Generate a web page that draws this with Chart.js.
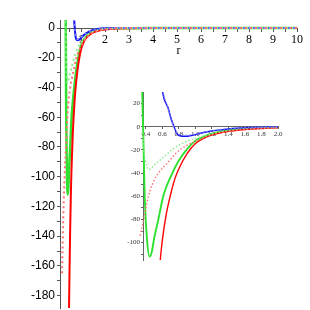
<!DOCTYPE html>
<html>
<head>
<meta charset="utf-8">
<script src="https://cdn.jsdelivr.net/npm/chart.js@4.4.0/dist/chart.umd.min.js"></script>
<style>
  body { margin: 0; background: #fff; }
  #wrap { position: relative; width: 310px; height: 310px; }
  #main { position: absolute; left: 0; top: 0; }
  #inset { position: absolute; left: 100px; top: 80px; }
</style>
</head>
<body>
<div id="wrap">
  <canvas id="main" width="310" height="310"></canvas>
  <canvas id="inset" width="200" height="190"></canvas>
</div>
<script>
// curves (r, value)
const redR   = [0.49, 0.5, 0.52, 0.55, 0.58, 0.6, 0.65, 0.7, 0.75, 0.8, 0.9, 1.0, 1.1, 1.2, 1.4, 1.6, 1.8, 2.0, 2.5, 3, 4, 6, 10];
const redV   = [-200, -190, -165, -134, -110, -97, -74, -58, -45, -36, -23, -14.5, -10, -7, -4, -2.4, -1.5, -1, -0.4, -0.2, -0.05, 0, 0];

const redDotR = [0.21, 0.23, 0.26, 0.3, 0.33, 0.37, 0.41, 0.45, 0.5, 0.55, 0.61, 0.7, 0.76, 0.85, 1.0, 1.2, 1.4, 1.6, 1.8, 2.0, 2.5, 3, 4, 10];
const redDotV = [-165, -150, -128, -108, -94, -81, -66, -55, -46, -40, -35, -28, -23, -18, -12.5, -7, -4, -2.3, -1.3, -0.8, -0.3, -0.1, 0, 0];

const greenR = [0.35, 0.355, 0.365, 0.375, 0.385, 0.41, 0.444, 0.47, 0.5, 0.55, 0.613, 0.7, 0.8, 0.9, 1.0, 1.1, 1.2, 1.4, 1.6, 1.8, 2.0, 2.5, 3, 4, 10];
const greenV = [60, 30, 0, -30, -60, -95, -112, -108, -96, -80, -59, -43, -29, -19, -12, -8.5, -6, -3, -1.6, -0.9, -0.5, -0.2, -0.1, 0, 0];

const greenDotR = [0.35, 0.36, 0.37, 0.39, 0.41, 0.43, 0.46, 0.5, 0.55, 0.6, 0.67, 0.75, 0.85, 1.0, 1.2, 1.4, 1.6, 1.8, 2.0, 2.5, 3, 4, 10];
const greenDotV = [8, -5, -18, -28, -34, -37, -36, -33, -30, -27, -22.7, -18, -14, -10, -6, -3.2, -1.8, -1, -0.5, -0.2, 0, 0, 0];

const blueR = [0.6, 0.62, 0.65, 0.67, 0.7, 0.73, 0.75, 0.78, 0.82, 0.88, 0.95, 1.0, 1.1, 1.2, 1.3, 1.4, 1.5, 1.7, 2.0, 2.5, 3, 4, 10];
const blueV = [30, 24, 19, 16, 8, 2, -2, -6.5, -8, -8.2, -7.5, -6.8, -5, -3.7, -2.7, -1.9, -1.3, -0.6, -0.2, -0.05, 0, 0, 0];
const blueDotV = [33, 26, 20, 15, 7, 1, -2.5, -5.5, -7, -7.5, -7, -6.2, -4.6, -3.4, -2.5, -1.8, -1.2, -0.6, -0.2, -0.05, 0, 0, 0];

// tick positions
const mainXTicks = [0.5, 1, 1.5, 2, 2.5, 3, 3.5, 4, 4.5, 5, 5.5, 6, 6.5, 7, 7.5, 8, 8.5, 9, 9.5, 10];
const mainYTicks = [-180, -170, -160, -150, -140, -130, -120, -110, -100, -90, -80, -70, -60, -50, -40, -30, -20, -10, 0];
const insetXTicks = [0.4, 0.6, 0.8, 1.0, 1.2, 1.4, 1.6, 1.8, 2.0];
const insetYTicks = [-110, -100, -90, -80, -70, -60, -50, -40, -30, -20, -10, 0, 10, 20];

function pts(rs, vs, lo, hi) {
  return rs.map((r, i) => ({x: r, y: vs[i]})).filter(p => p.x >= lo && p.x <= hi);
}

function sets(lo, hi, w, dash) {
  const base = {pointRadius: 0, cubicInterpolationMode: 'monotone', fill: false};
  return [
    {...base, data: pts(redDotR, redDotV, lo, hi), borderColor: '#ff6f6f', borderWidth: w, borderDash: dash},
    {...base, data: pts(greenDotR, greenDotV, lo, hi), borderColor: '#8aea8a', borderWidth: w, borderDash: dash},
    {...base, data: pts(blueR, blueDotV, lo, hi), borderColor: '#8080ff', borderWidth: w, borderDash: dash},
    {...base, data: pts(blueR, blueV, lo, hi), borderColor: '#1010ee', borderWidth: w},
    {...base, data: pts(redR, redV, lo, hi), borderColor: '#ff0000', borderWidth: w},
    {...base, data: pts(greenR, greenV, lo, hi), borderColor: '#30e030', borderWidth: w + 0.5}
  ];
}

function noPad(s) { s.paddingLeft = 0; s.paddingRight = 0; s.paddingTop = 0; s.paddingBottom = 0; }

const mainSets = sets(0, 10, 2, [2, 3]);
mainSets.forEach(d => d.clip = 0);

new Chart(document.getElementById('main'), {
  type: 'line',
  data: {datasets: mainSets},
  options: {
    responsive: false,
    animation: false,
    layout: {padding: {left: 0, top: 20, right: 13, bottom: 2}},
    plugins: {legend: {display: false}, tooltip: {enabled: false}},
    scales: {
      x: {
        type: 'linear',
        position: {y: 0},
        min: 0.125, max: 10,
        afterBuildTicks: s => { s.ticks = mainXTicks.map(v => ({value: v})); },
        afterFit: s => { noPad(s); s.height = 30; },
        ticks: {
          callback: v => Number.isInteger(v) ? String(v) : '',
          font: {family: 'Liberation Serif', size: 12},
          color: '#000', padding: 2, maxRotation: 0, autoSkip: false
        },
        grid: {drawOnChartArea: false, tickLength: 3, color: '#555'},
        border: {color: '#555'},
        title: {display: true, text: 'r', font: {family: 'Liberation Serif', size: 12}, color: '#000', padding: 0}
      },
      y: {
        type: 'linear',
        position: 'left',
        min: -188.3, max: 5.38,
        afterBuildTicks: s => { s.ticks = mainYTicks.map(v => ({value: v})); },
        afterFit: s => { noPad(s); s.width = 60; },
        ticks: {
          callback: v => v % 20 === 0 ? String(v) : '',
          font: {family: 'Liberation Sans', size: 12},
          color: '#000', padding: 2, autoSkip: false
        },
        grid: {drawOnChartArea: false, tickLength: 3, color: '#555'},
        border: {color: '#555'}
      }
    }
  }
});

const insetSets = sets(0.3, 2.5, 1.4, [1.5, 2]);
insetSets.forEach(d => d.clip = {left: 5, top: 0, right: 0, bottom: 0});

new Chart(document.getElementById('inset'), {
  type: 'line',
  data: {datasets: insetSets},
  options: {
    responsive: false,
    animation: false,
    layout: {padding: {left: 0, top: 12, right: 22, bottom: 10}},
    plugins: {legend: {display: false}, tooltip: {enabled: false}},
    scales: {
      x: {
        type: 'linear',
        position: {y: 0},
        min: 0.364, max: 2.0,
        afterBuildTicks: s => { s.ticks = insetXTicks.map(v => ({value: v})); },
        afterFit: s => { noPad(s); },
        ticks: {
          callback: v => v.toFixed(1),
          font: {family: 'Liberation Serif', size: 7},
          color: '#333', padding: 1, maxRotation: 0, autoSkip: false
        },
        grid: {drawOnChartArea: false, tickLength: 2, color: '#666'},
        border: {color: '#666'}
      },
      y: {
        type: 'linear',
        position: 'left',
        min: -115, max: 30,
        afterBuildTicks: s => { s.ticks = insetYTicks.map(v => ({value: v})); },
        afterFit: s => { noPad(s); s.width = 43; },
        ticks: {
          callback: v => v % 20 === 0 ? String(v) : '',
          font: {family: 'Liberation Serif', size: 7},
          color: '#333', padding: 1, autoSkip: false
        },
        grid: {drawOnChartArea: false, tickLength: 2, color: '#666'},
        border: {color: '#666'}
      }
    }
  }
});
</script>
</body>
</html>
